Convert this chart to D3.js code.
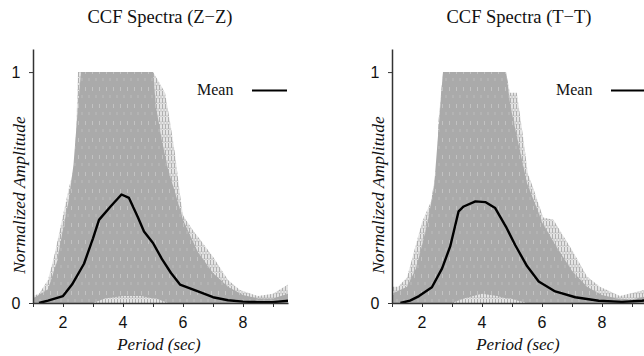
<!DOCTYPE html>
<html>
<head>
<meta charset="utf-8">
<script src="https://cdn.jsdelivr.net/npm/d3@7"></script>
<style>
  html, body { margin: 0; padding: 0; background: #fff; }
  svg { display: block; }
</style>
</head>
<body>
<div id="vis"></div>
<script>
// Two CCF spectra panels: grey cloud of individual spectra (drawn as envelopes), black mean curve.

const PANEL_TITLES = ["CCF Spectra (Z\u2212Z)", "CCF Spectra (T\u2212T)"];
const X_TICKS = [1, 2, 3, 4, 5, 6, 7, 8, 9];
const X_LABELS = [2, 4, 6, 8];
const Y_TICKS = [0, 1];

// [period, normalized amplitude]
const ZZ_MEAN = [[1.2,0],[1.5,0.01],[2.0,0.03],[2.3,0.08],[2.7,0.17],[3.0,0.28],[3.2,0.36],[3.6,0.42],
  [3.95,0.47],[4.2,0.455],[4.5,0.37],[4.7,0.31],[5.0,0.26],[5.3,0.19],[5.6,0.13],[5.9,0.08],[6.5,0.05],
  [7.0,0.025],[7.5,0.012],[8.0,0.006],[8.5,0.004],[9.0,0.004],[9.5,0.01]];
const TT_MEAN = [[1.28,0],[1.6,0.01],[1.9,0.03],[2.33,0.068],[2.67,0.15],[2.94,0.245],[3.22,0.397],[3.39,0.418],
  [3.78,0.44],[4.11,0.437],[4.44,0.411],[4.8,0.33],[5.11,0.25],[5.5,0.16],[5.89,0.093],[6.44,0.05],
  [7.11,0.025],[7.89,0.01],[8.67,0.005],[9.33,0.01],[9.5,0.012]];

// outer envelope of all spectra (max), lighter fringe
const ZZ_OUTER = [[1.0,0.03],[1.2,0.04],[1.5,0.1],[1.7,0.2],[2.0,0.38],[2.2,0.5],[2.4,0.6],[2.5,1],[5.0,1],
  [5.1,0.98],[5.4,0.91],[5.55,0.8],[5.73,0.65],[5.9,0.47],[6.0,0.38],[6.3,0.32],[6.6,0.27],[7.0,0.2],
  [7.5,0.1],[7.9,0.056],[8.5,0.03],[9.0,0.04],[9.5,0.08]];
const TT_OUTER = [[1.0,0.07],[1.2,0.07],[1.5,0.11],[2.0,0.35],[2.3,0.44],[2.5,0.6],[2.55,0.79],[2.7,1],[4.8,1],
  [4.93,0.91],[5.16,0.91],[5.37,0.72],[5.53,0.56],[5.7,0.5],[6.04,0.37],[6.38,0.36],[6.71,0.29],[7.0,0.23],
  [7.5,0.115],[7.93,0.07],[8.6,0.03],[9.2,0.05],[9.5,0.06]];

// dense core of the spectra cloud: [period, lower, upper]
const ZZ_CORE = [[1.0,0,0.02],[1.5,0,0.06],[1.8,0,0.18],[2.0,0,0.32],[2.2,0,0.45],[2.35,0,0.6],[2.5,0,0.85],
  [2.6,0,1],[3.0,0,1],[3.4,0.02,1],[4.0,0.03,1],[4.6,0.03,1],[5.0,0.02,1],[5.1,0.02,0.85],[5.3,0.01,0.7],
  [5.5,0,0.58],[5.8,0,0.45],[6.0,0,0.36],[6.5,0,0.22],[7.0,0,0.13],[7.5,0,0.07],[8.0,0,0.035],[8.5,0,0.02],
  [9.0,0,0.02],[9.5,0,0.04]];
const TT_CORE = [[1.0,0,0.04],[1.5,0,0.07],[1.8,0,0.15],[2.0,0,0.25],[2.2,0,0.36],[2.4,0,0.5],[2.55,0,0.75],
  [2.7,0,1],[3.0,0,1],[3.4,0.02,1],[4.0,0.04,1],[4.5,0.03,1],[4.8,0.02,1],[4.95,0.02,0.85],[5.2,0.01,0.7],
  [5.5,0,0.52],[5.8,0,0.42],[6.0,0,0.35],[6.5,0,0.24],[7.0,0,0.14],[7.5,0,0.07],[8.0,0,0.035],[8.5,0,0.02],
  [9.0,0,0.015],[9.5,0,0.03]];

const PANELS = [
  { title: PANEL_TITLES[0], mean: ZZ_MEAN, outer: ZZ_OUTER, core: ZZ_CORE, x0: 33 },
  { title: PANEL_TITLES[1], mean: TT_MEAN, outer: TT_OUTER, core: TT_CORE, x0: 392 },
];

const W = 644, H = 356;
const PW = 255;            // plot width for period 1..9.5
const Y0 = 303, Y1 = 49;   // pixel rows for amplitude 0 and 1.1

const svg = d3.select("#vis").append("svg").attr("width", W).attr("height", H);
const defs = svg.append("defs");

// streak textures, to suggest many dashed traces
const light = defs.append("pattern").attr("id", "streakLight")
  .attr("patternUnits", "userSpaceOnUse").attr("width", 3).attr("height", 13);
light.append("rect").attr("width", 3).attr("height", 13).attr("fill", "#e4e4e4");
light.append("line").attr("x1", 0.5).attr("x2", 0.5).attr("y1", 0).attr("y2", 13)
  .attr("stroke", "#b0b0b0").attr("stroke-width", 1).attr("stroke-dasharray", "5,2");
light.append("line").attr("x1", 2).attr("x2", 2).attr("y1", 4).attr("y2", 17)
  .attr("stroke", "#c2c2c2").attr("stroke-width", 1).attr("stroke-dasharray", "4,3");

const dense = defs.append("pattern").attr("id", "streakDense")
  .attr("patternUnits", "userSpaceOnUse").attr("width", 7).attr("height", 17);
dense.append("rect").attr("width", 7).attr("height", 17).attr("fill", "#aaaaaa");
dense.append("line").attr("x1", 1.5).attr("x2", 1.5).attr("y1", 2).attr("y2", 6)
  .attr("stroke", "#c2c2c2").attr("stroke-width", 1);
dense.append("line").attr("x1", 5).attr("x2", 5).attr("y1", 10).attr("y2", 13)
  .attr("stroke", "#bcbcbc").attr("stroke-width", 1);

const serif = "'Liberation Serif', 'Times New Roman', serif";
const sans  = "'Liberation Sans', Arial, sans-serif";

PANELS.forEach((p, i) => {
  const x = d3.scaleLinear().domain([1, 9.5]).range([p.x0, p.x0 + PW]);
  const y = d3.scaleLinear().domain([0, 1.1]).range([Y0, Y1]);
  const g = svg.append("g");

  defs.append("clipPath").attr("id", "clip" + i)
    .append("rect").attr("x", p.x0).attr("y", Y1).attr("width", PW).attr("height", Y0 - Y1);
  const plot = g.append("g").attr("clip-path", `url(#clip${i})`);

  // lighter fringe of the cloud
  plot.append("path").datum(p.outer)
    .attr("fill", "url(#streakLight)")
    .attr("d", d3.area().x(d => x(d[0])).y0(y(0)).y1(d => y(d[1])));

  // dense core
  plot.append("path").datum(p.core)
    .attr("fill", "url(#streakDense)")
    .attr("d", d3.area().x(d => x(d[0])).y0(d => y(d[1])).y1(d => y(d[2])));

  // mean spectrum
  plot.append("path").datum(p.mean)
    .attr("fill", "none").attr("stroke", "#000").attr("stroke-width", 2.4)
    .attr("stroke-linejoin", "round")
    .attr("d", d3.line().x(d => x(d[0])).y(d => y(d[1])));

  // axes
  g.append("g").attr("transform", `translate(0,${Y0})`)
    .call(d3.axisBottom(x).tickValues(X_TICKS).tickSize(4).tickSizeOuter(0).tickFormat(""))
    .call(ax => ax.select(".domain").attr("stroke", "#333").attr("stroke-width", 1.5))
    .call(ax => ax.selectAll(".tick line").attr("stroke", "#333"));

  g.selectAll(".xlab").data(X_LABELS).join("text")
    .attr("x", d => x(d)).attr("y", 328).attr("text-anchor", "middle")
    .style("font-family", sans).style("font-size", "16px").style("fill", "#111")
    .text(d => d);

  g.append("g").attr("transform", `translate(${p.x0},0)`)
    .call(d3.axisLeft(y).tickValues(Y_TICKS).tickSize(4).tickSizeOuter(0).tickFormat(""))
    .call(ax => ax.select(".domain").attr("stroke", "#333").attr("stroke-width", 1.5))
    .call(ax => ax.selectAll(".tick line").attr("stroke", "#333"));

  g.selectAll(".ylab").data(Y_TICKS).join("text")
    .attr("x", p.x0 - 17).attr("y", d => y(d) + 6).attr("text-anchor", "middle")
    .style("font-family", sans).style("font-size", "16px").style("fill", "#111")
    .text(d => d);

  // titles and labels
  g.append("text")
    .attr("x", p.x0 + 127).attr("y", 23).attr("text-anchor", "middle")
    .style("font-family", serif).style("font-size", "18.5px").style("fill", "#111")
    .text(p.title);

  g.append("text")
    .attr("x", p.x0 + 126).attr("y", 350).attr("text-anchor", "middle")
    .style("font-family", serif).style("font-style", "italic").style("font-size", "17px").style("fill", "#111")
    .text("Period (sec)");

  g.append("text")
    .attr("transform", `translate(${p.x0 - 8},${195}) rotate(-90)`).attr("text-anchor", "middle")
    .style("font-family", serif).style("font-style", "italic").style("font-size", "17.5px").style("fill", "#111")
    .text("Normalized Amplitude");

  // legend
  g.append("text")
    .attr("x", p.x0 + 164).attr("y", 95)
    .style("font-family", serif).style("font-size", "16px").style("fill", "#111")
    .text("Mean");
  g.append("line")
    .attr("x1", p.x0 + 219).attr("x2", p.x0 + 254).attr("y1", 90.5).attr("y2", 90.5)
    .attr("stroke", "#000").attr("stroke-width", 2);
});
</script>
</body>
</html>
